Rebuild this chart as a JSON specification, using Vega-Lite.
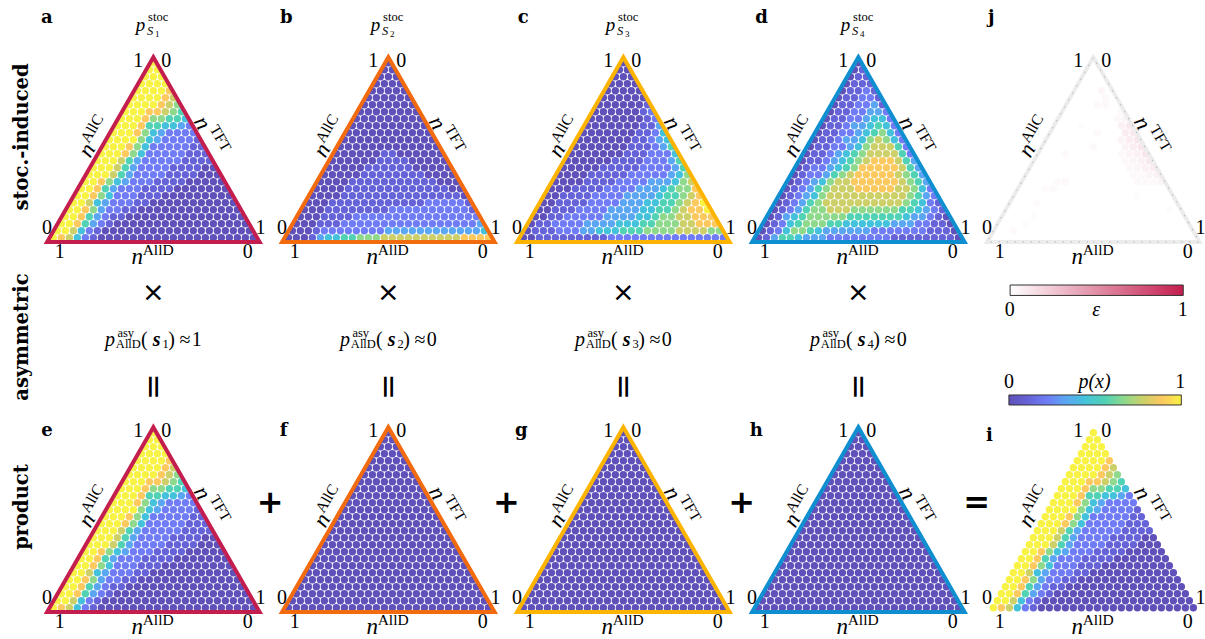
{"$schema":"https://vega.github.io/schema/vega-lite/v6.json","padding":0,"background":"white","bounds":"flush","spacing":0,"columns":6,
"config":{"view":{"stroke":null},"style":{
"digit":{"font":"Liberation Serif","fontSize":20,"fill":"#111"},
"nD":{"font":"Liberation Serif","fontStyle":"italic","fontSize":23,"fill":"#111"},
"nC":{"font":"Liberation Serif","fontStyle":"italic","fontSize":23,"angle":-60,"fill":"#111"},
"nT":{"font":"Liberation Serif","fontStyle":"italic","fontSize":23,"angle":60,"fill":"#111"},
"supD":{"font":"Liberation Serif","fontSize":15.5,"fill":"#111"},
"supC":{"font":"Liberation Serif","fontSize":15.5,"angle":-60,"fill":"#111"},
"supT":{"font":"Liberation Serif","fontSize":15.5,"angle":60,"fill":"#111"},
"letter":{"font":"DejaVu Serif","fontWeight":"bold","fontSize":18,"fill":"#111"},
"tP":{"font":"Liberation Serif","fontStyle":"italic","fontSize":19,"fill":"#111"},
"tS":{"font":"Liberation Serif","fontSize":12.5,"fill":"#111"},
"tC":{"font":"Liberation Serif","fontStyle":"italic","fontSize":12.5,"fill":"#111"},
"tN":{"font":"Liberation Serif","fontSize":9,"fill":"#111"},
"rowLab":{"font":"DejaVu Serif","fontWeight":"bold","fontSize":19.5,"angle":-90,"fill":"#111"},
"times":{"font":"DejaVu Sans","fontSize":27,"fill":"#111"},
"eqv":{"font":"DejaVu Sans","fontSize":32,"angle":90,"fill":"#111"},
"plus":{"font":"DejaVu Sans","fontSize":32,"fontWeight":"bold","fill":"#111"},
"fM":{"font":"Liberation Serif","fontSize":20,"fill":"#222"},
"fI":{"font":"Liberation Serif","fontStyle":"italic","fontSize":20,"fill":"#222"},
"fB":{"font":"Liberation Serif","fontStyle":"italic","fontWeight":"bold","fontSize":20,"fill":"#222"},
"fS":{"font":"Liberation Serif","fontSize":12.5,"fill":"#222"},
"barT":{"font":"Liberation Serif","fontSize":20,"fill":"#222"},
"barI":{"font":"Liberation Serif","fontStyle":"italic","fontSize":20,"fill":"#222"}
}},
"datasets":{
"digits":[{"x":10.6,"y":25.2,"t":"1"},{"x":14.1,"y":25.2,"t":"0"},{"x":-0.8,"y":1.4,"t":"0"},{"x":25.9,"y":1.4,"t":"1"},{"x":0.8,"y":-2.05,"t":"1"},{"x":24.3,"y":-2.05,"t":"0"}],
"nD":[{"x":10.5,"y":-2.75,"t":"n"}],"supD":[{"x":13.1,"y":-1.75,"t":"AllD"}],
"nC":[{"x":4.2,"y":12.5,"t":"n"}],"supC":[{"x":4.84,"y":15.6,"t":"AllC"}],
"nT":[{"x":18.6,"y":16.4,"t":"n"}],"supT":[{"x":20.9,"y":14.2,"t":"TFT"}],
"tP":[{"x":10.9,"y":30.4,"t":"p"}],"tS":[{"x":13.1,"y":31.5,"t":"stoc"}],"tC":[{"x":12.1,"y":29.5,"t":"S"}],
"tri":[{"o":0,"x":12.5,"y":-0.61},{"o":1,"x":25.78,"y":-0.61},{"o":2,"x":12.5,"y":25.77},{"o":3,"x":-0.78,"y":-0.61},{"o":4,"x":12.5,"y":-0.61}],
"fP":[{"x":0.3155,"y":0.4545,"t":"p"}],"fA":[{"x":0.3824,"y":0.403,"t":"asy"},{"x":0.3935,"y":0.4825,"t":"AllD"}],"fO":[{"x":0.4617,"y":0.4545,"t":"("},{"x":0.578,"y":0.4545,"t":")"},{"x":0.635,"y":0.4545,"t":"≈"}],"fSym":[{"x":0.5145,"y":0.4545,"t":"s"}],
"times":[{"x":0.5,"y":0.124,"t":"×"}],"eqv":[{"x":0.5,"y":0.78,"t":"="}],
"eps":[{"x":16,"y":16,"e":0.12},{"x":17,"y":16,"e":0.18},{"x":16.5,"y":15,"e":0.15},{"x":17.5,"y":15,"e":0.18},{"x":16,"y":14,"e":0.08},{"x":17,"y":14,"e":0.15},{"x":18,"y":14,"e":0.2},{"x":16.5,"y":13,"e":0.1},{"x":17.5,"y":13,"e":0.15},{"x":18.5,"y":13,"e":0.2},{"x":16,"y":12,"e":0.06},{"x":17,"y":12,"e":0.1},{"x":18,"y":12,"e":0.12},{"x":19,"y":12,"e":0.2},{"x":16.5,"y":11,"e":0.06},{"x":17.5,"y":11,"e":0.08},{"x":18.5,"y":11,"e":0.12},{"x":19.5,"y":11,"e":0.18},{"x":17,"y":10,"e":0.06},{"x":18,"y":10,"e":0.08},{"x":19,"y":10,"e":0.12},{"x":20,"y":10,"e":0.15},{"x":17.5,"y":9,"e":0.05},{"x":18.5,"y":9,"e":0.06},{"x":19.5,"y":9,"e":0.08},{"x":20.5,"y":9,"e":0.12},{"x":18,"y":8,"e":0.05},{"x":19,"y":8,"e":0.05},{"x":20,"y":8,"e":0.06},{"x":21,"y":8,"e":0.08},{"x":15.5,"y":17,"e":0.06},{"x":16.5,"y":17,"e":0.08},{"x":16,"y":18,"e":0.05},{"x":13.5,"y":21,"e":0.07},{"x":14,"y":20,"e":0.05},{"x":14,"y":19,"e":0.06},{"x":13,"y":19,"e":0.05},{"x":13,"y":15,"e":0.05},{"x":12.5,"y":13,"e":0.05},{"x":11,"y":16,"e":0.03},{"x":9,"y":12,"e":0.04},{"x":9,"y":8,"e":0.05},{"x":8,"y":8,"e":0.04},{"x":7.5,"y":7,"e":0.04},{"x":6.5,"y":7,"e":0.04},{"x":5.5,"y":5,"e":0.04},{"x":5,"y":3,"e":0.03},{"x":4,"y":2,"e":0.03},{"x":2.5,"y":1,"e":0.04},{"x":22,"y":4,"e":0.03},{"x":18,"y":6,"e":0.03}],
"lattice":[
{"x":0,"y":0,"a":9,"b":0,"c":0,"d":0},{"x":1,"y":0,"a":8,"b":0,"c":0,"d":1},{"x":2,"y":0,"a":7,"b":0,"c":1,"d":3},{"x":3,"y":0,"a":4,"b":1,"c":1,"d":5},{"x":4,"y":0,"a":2,"b":3,"c":1,"d":5},{"x":5,"y":0,"a":1,"b":4,"c":1,"d":4},{"x":6,"y":0,"a":0,"b":4,"c":1,"d":3},{"x":7,"y":0,"a":0,"b":5,"c":1,"d":3},{"x":8,"y":0,"a":0,"b":5,"c":1,"d":3},{"x":9,"y":0,"a":0,"b":6,"c":1,"d":2},{"x":10,"y":0,"a":0,"b":6,"c":1,"d":2},{"x":11,"y":0,"a":0,"b":6,"c":2,"d":2},{"x":12,"y":0,"a":0,"b":7,"c":2,"d":2},{"x":13,"y":0,"a":0,"b":7,"c":2,"d":2},{"x":14,"y":0,"a":0,"b":7,"c":2,"d":2},{"x":15,"y":0,"a":0,"b":7,"c":2,"d":2},{"x":16,"y":0,"a":0,"b":7,"c":2,"d":2},{"x":17,"y":0,"a":0,"b":7,"c":2,"d":1},{"x":18,"y":0,"a":0,"b":7,"c":2,"d":1},{"x":19,"y":0,"a":0,"b":7,"c":2,"d":1},{"x":20,"y":0,"a":0,"b":7,"c":2,"d":1},{"x":21,"y":0,"a":0,"b":7,"c":2,"d":1},{"x":22,"y":0,"a":0,"b":8,"c":2,"d":1},{"x":23,"y":0,"a":0,"b":8,"c":2,"d":1},{"x":24,"y":0,"a":0,"b":8,"c":2,"d":1},{"x":25,"y":0,"a":0,"b":8,"c":2,"d":0},
{"x":0.5,"y":1,"a":9,"b":0,"c":0,"d":0},{"x":1.5,"y":1,"a":9,"b":0,"c":1,"d":1},{"x":2.5,"y":1,"a":7,"b":0,"c":1,"d":2},{"x":3.5,"y":1,"a":4,"b":1,"c":1,"d":4},{"x":4.5,"y":1,"a":2,"b":2,"c":2,"d":6},{"x":5.5,"y":1,"a":1,"b":2,"c":2,"d":6},{"x":6.5,"y":1,"a":0,"b":2,"c":2,"d":5},{"x":7.5,"y":1,"a":0,"b":2,"c":3,"d":4},{"x":8.5,"y":1,"a":0,"b":2,"c":3,"d":3},{"x":9.5,"y":1,"a":0,"b":2,"c":4,"d":3},{"x":10.5,"y":1,"a":0,"b":2,"c":4,"d":3},{"x":11.5,"y":1,"a":0,"b":2,"c":4,"d":3},{"x":12.5,"y":1,"a":0,"b":3,"c":5,"d":3},{"x":13.5,"y":1,"a":0,"b":3,"c":5,"d":3},{"x":14.5,"y":1,"a":0,"b":3,"c":5,"d":2},{"x":15.5,"y":1,"a":0,"b":3,"c":6,"d":2},{"x":16.5,"y":1,"a":0,"b":3,"c":6,"d":2},{"x":17.5,"y":1,"a":0,"b":3,"c":6,"d":2},{"x":18.5,"y":1,"a":0,"b":3,"c":6,"d":2},{"x":19.5,"y":1,"a":0,"b":3,"c":7,"d":2},{"x":20.5,"y":1,"a":0,"b":3,"c":7,"d":2},{"x":21.5,"y":1,"a":0,"b":3,"c":7,"d":1},{"x":22.5,"y":1,"a":0,"b":3,"c":7,"d":1},{"x":23.5,"y":1,"a":0,"b":3,"c":6,"d":1},{"x":24.5,"y":1,"a":0,"b":4,"c":6,"d":0},
{"x":1,"y":2,"a":9,"b":0,"c":0,"d":0},{"x":2,"y":2,"a":9,"b":0,"c":1,"d":1},{"x":3,"y":2,"a":8,"b":0,"c":1,"d":2},{"x":4,"y":2,"a":5,"b":1,"c":2,"d":4},{"x":5,"y":2,"a":3,"b":1,"c":2,"d":5},{"x":6,"y":2,"a":2,"b":1,"c":2,"d":6},{"x":7,"y":2,"a":1,"b":2,"c":2,"d":6},{"x":8,"y":2,"a":0,"b":2,"c":3,"d":6},{"x":9,"y":2,"a":0,"b":2,"c":3,"d":5},{"x":10,"y":2,"a":0,"b":2,"c":3,"d":5},{"x":11,"y":2,"a":0,"b":2,"c":3,"d":4},{"x":12,"y":2,"a":0,"b":2,"c":4,"d":4},{"x":13,"y":2,"a":0,"b":2,"c":4,"d":4},{"x":14,"y":2,"a":0,"b":2,"c":4,"d":4},{"x":15,"y":2,"a":0,"b":2,"c":5,"d":4},{"x":16,"y":2,"a":0,"b":2,"c":5,"d":4},{"x":17,"y":2,"a":0,"b":2,"c":6,"d":3},{"x":18,"y":2,"a":0,"b":2,"c":6,"d":3},{"x":19,"y":2,"a":0,"b":2,"c":6,"d":3},{"x":20,"y":2,"a":0,"b":2,"c":7,"d":2},{"x":21,"y":2,"a":0,"b":2,"c":7,"d":2},{"x":22,"y":2,"a":0,"b":2,"c":8,"d":1},{"x":23,"y":2,"a":0,"b":2,"c":8,"d":1},{"x":24,"y":2,"a":0,"b":3,"c":8,"d":0},
{"x":1.5,"y":3,"a":9,"b":0,"c":0,"d":0},{"x":2.5,"y":3,"a":9,"b":0,"c":0,"d":1},{"x":3.5,"y":3,"a":8,"b":0,"c":1,"d":3},{"x":4.5,"y":3,"a":5,"b":1,"c":1,"d":4},{"x":5.5,"y":3,"a":3,"b":1,"c":2,"d":5},{"x":6.5,"y":3,"a":2,"b":1,"c":2,"d":6},{"x":7.5,"y":3,"a":1,"b":1,"c":2,"d":6},{"x":8.5,"y":3,"a":1,"b":2,"c":2,"d":6},{"x":9.5,"y":3,"a":0,"b":2,"c":2,"d":6},{"x":10.5,"y":3,"a":0,"b":2,"c":3,"d":6},{"x":11.5,"y":3,"a":0,"b":2,"c":3,"d":5},{"x":12.5,"y":3,"a":0,"b":2,"c":3,"d":5},{"x":13.5,"y":3,"a":0,"b":2,"c":3,"d":5},{"x":14.5,"y":3,"a":0,"b":2,"c":4,"d":5},{"x":15.5,"y":3,"a":0,"b":2,"c":4,"d":5},{"x":16.5,"y":3,"a":0,"b":2,"c":5,"d":5},{"x":17.5,"y":3,"a":0,"b":2,"c":6,"d":5},{"x":18.5,"y":3,"a":0,"b":2,"c":6,"d":4},{"x":19.5,"y":3,"a":0,"b":2,"c":7,"d":3},{"x":20.5,"y":3,"a":0,"b":2,"c":7,"d":3},{"x":21.5,"y":3,"a":0,"b":2,"c":8,"d":2},{"x":22.5,"y":3,"a":0,"b":2,"c":8,"d":1},{"x":23.5,"y":3,"a":0,"b":2,"c":8,"d":0},
{"x":2,"y":4,"a":9,"b":0,"c":0,"d":0},{"x":3,"y":4,"a":9,"b":0,"c":0,"d":1},{"x":4,"y":4,"a":8,"b":0,"c":1,"d":2},{"x":5,"y":4,"a":6,"b":1,"c":1,"d":3},{"x":6,"y":4,"a":3,"b":1,"c":1,"d":5},{"x":7,"y":4,"a":2,"b":1,"c":2,"d":6},{"x":8,"y":4,"a":2,"b":1,"c":2,"d":6},{"x":9,"y":4,"a":1,"b":1,"c":2,"d":7},{"x":10,"y":4,"a":1,"b":1,"c":2,"d":7},{"x":11,"y":4,"a":0,"b":1,"c":3,"d":7},{"x":12,"y":4,"a":0,"b":1,"c":3,"d":6},{"x":13,"y":4,"a":0,"b":2,"c":3,"d":6},{"x":14,"y":4,"a":0,"b":2,"c":3,"d":6},{"x":15,"y":4,"a":0,"b":2,"c":4,"d":6},{"x":16,"y":4,"a":0,"b":2,"c":4,"d":6},{"x":17,"y":4,"a":0,"b":2,"c":5,"d":6},{"x":18,"y":4,"a":0,"b":2,"c":5,"d":5},{"x":19,"y":4,"a":0,"b":2,"c":6,"d":5},{"x":20,"y":4,"a":0,"b":2,"c":7,"d":4},{"x":21,"y":4,"a":0,"b":2,"c":8,"d":3},{"x":22,"y":4,"a":0,"b":2,"c":8,"d":2},{"x":23,"y":4,"a":0,"b":1,"c":9,"d":1},
{"x":2.5,"y":5,"a":9,"b":0,"c":0,"d":0},{"x":3.5,"y":5,"a":9,"b":0,"c":0,"d":1},{"x":4.5,"y":5,"a":7,"b":0,"c":1,"d":2},{"x":5.5,"y":5,"a":4,"b":1,"c":1,"d":3},{"x":6.5,"y":5,"a":3,"b":1,"c":1,"d":5},{"x":7.5,"y":5,"a":2,"b":1,"c":1,"d":6},{"x":8.5,"y":5,"a":2,"b":1,"c":2,"d":7},{"x":9.5,"y":5,"a":2,"b":1,"c":2,"d":7},{"x":10.5,"y":5,"a":1,"b":1,"c":2,"d":7},{"x":11.5,"y":5,"a":1,"b":1,"c":2,"d":7},{"x":12.5,"y":5,"a":0,"b":1,"c":3,"d":7},{"x":13.5,"y":5,"a":0,"b":1,"c":3,"d":7},{"x":14.5,"y":5,"a":0,"b":1,"c":3,"d":7},{"x":15.5,"y":5,"a":0,"b":1,"c":4,"d":7},{"x":16.5,"y":5,"a":0,"b":1,"c":4,"d":7},{"x":17.5,"y":5,"a":0,"b":2,"c":5,"d":7},{"x":18.5,"y":5,"a":0,"b":2,"c":5,"d":6},{"x":19.5,"y":5,"a":0,"b":2,"c":6,"d":5},{"x":20.5,"y":5,"a":0,"b":2,"c":7,"d":4},{"x":21.5,"y":5,"a":0,"b":2,"c":8,"d":2},{"x":22.5,"y":5,"a":0,"b":1,"c":9,"d":1},
{"x":3,"y":6,"a":9,"b":0,"c":0,"d":0},{"x":4,"y":6,"a":9,"b":0,"c":0,"d":1},{"x":5,"y":6,"a":8,"b":0,"c":1,"d":2},{"x":6,"y":6,"a":6,"b":0,"c":1,"d":3},{"x":7,"y":6,"a":4,"b":1,"c":1,"d":4},{"x":8,"y":6,"a":2,"b":1,"c":1,"d":6},{"x":9,"y":6,"a":2,"b":1,"c":2,"d":7},{"x":10,"y":6,"a":2,"b":1,"c":2,"d":7},{"x":11,"y":6,"a":1,"b":1,"c":2,"d":7},{"x":12,"y":6,"a":1,"b":1,"c":2,"d":7},{"x":13,"y":6,"a":1,"b":1,"c":3,"d":7},{"x":14,"y":6,"a":0,"b":1,"c":3,"d":7},{"x":15,"y":6,"a":0,"b":1,"c":3,"d":7},{"x":16,"y":6,"a":0,"b":1,"c":3,"d":7},{"x":17,"y":6,"a":0,"b":1,"c":4,"d":7},{"x":18,"y":6,"a":0,"b":1,"c":5,"d":7},{"x":19,"y":6,"a":0,"b":1,"c":5,"d":6},{"x":20,"y":6,"a":0,"b":1,"c":6,"d":5},{"x":21,"y":6,"a":0,"b":1,"c":7,"d":3},{"x":22,"y":6,"a":0,"b":0,"c":8,"d":2},
{"x":3.5,"y":7,"a":9,"b":0,"c":0,"d":0},{"x":4.5,"y":7,"a":9,"b":0,"c":0,"d":1},{"x":5.5,"y":7,"a":8,"b":0,"c":0,"d":2},{"x":6.5,"y":7,"a":5,"b":0,"c":1,"d":3},{"x":7.5,"y":7,"a":3,"b":1,"c":1,"d":5},{"x":8.5,"y":7,"a":2,"b":1,"c":1,"d":6},{"x":9.5,"y":7,"a":2,"b":1,"c":1,"d":7},{"x":10.5,"y":7,"a":2,"b":1,"c":2,"d":7},{"x":11.5,"y":7,"a":1,"b":1,"c":2,"d":7},{"x":12.5,"y":7,"a":1,"b":1,"c":2,"d":8},{"x":13.5,"y":7,"a":1,"b":1,"c":2,"d":8},{"x":14.5,"y":7,"a":1,"b":1,"c":3,"d":8},{"x":15.5,"y":7,"a":0,"b":1,"c":3,"d":8},{"x":16.5,"y":7,"a":0,"b":1,"c":3,"d":8},{"x":17.5,"y":7,"a":0,"b":1,"c":4,"d":7},{"x":18.5,"y":7,"a":0,"b":1,"c":5,"d":7},{"x":19.5,"y":7,"a":0,"b":1,"c":6,"d":6},{"x":20.5,"y":7,"a":0,"b":0,"c":6,"d":4},{"x":21.5,"y":7,"a":0,"b":0,"c":8,"d":2},
{"x":4,"y":8,"a":9,"b":0,"c":0,"d":0},{"x":5,"y":8,"a":9,"b":0,"c":0,"d":1},{"x":6,"y":8,"a":8,"b":0,"c":0,"d":2},{"x":7,"y":8,"a":6,"b":0,"c":0,"d":3},{"x":8,"y":8,"a":4,"b":1,"c":1,"d":4},{"x":9,"y":8,"a":3,"b":1,"c":1,"d":6},{"x":10,"y":8,"a":2,"b":1,"c":1,"d":7},{"x":11,"y":8,"a":2,"b":1,"c":1,"d":7},{"x":12,"y":8,"a":2,"b":1,"c":2,"d":8},{"x":13,"y":8,"a":1,"b":1,"c":2,"d":8},{"x":14,"y":8,"a":1,"b":1,"c":2,"d":8},{"x":15,"y":8,"a":1,"b":1,"c":2,"d":8},{"x":16,"y":8,"a":1,"b":1,"c":3,"d":8},{"x":17,"y":8,"a":0,"b":1,"c":3,"d":8},{"x":18,"y":8,"a":0,"b":1,"c":3,"d":7},{"x":19,"y":8,"a":0,"b":0,"c":4,"d":6},{"x":20,"y":8,"a":0,"b":0,"c":6,"d":5},{"x":21,"y":8,"a":0,"b":0,"c":7,"d":3},
{"x":4.5,"y":9,"a":9,"b":0,"c":0,"d":0},{"x":5.5,"y":9,"a":9,"b":0,"c":0,"d":1},{"x":6.5,"y":9,"a":9,"b":0,"c":0,"d":2},{"x":7.5,"y":9,"a":7,"b":0,"c":0,"d":2},{"x":8.5,"y":9,"a":5,"b":0,"c":1,"d":3},{"x":9.5,"y":9,"a":3,"b":1,"c":1,"d":5},{"x":10.5,"y":9,"a":2,"b":1,"c":1,"d":6},{"x":11.5,"y":9,"a":2,"b":1,"c":1,"d":7},{"x":12.5,"y":9,"a":2,"b":1,"c":1,"d":8},{"x":13.5,"y":9,"a":2,"b":1,"c":2,"d":8},{"x":14.5,"y":9,"a":1,"b":1,"c":2,"d":8},{"x":15.5,"y":9,"a":1,"b":1,"c":2,"d":8},{"x":16.5,"y":9,"a":1,"b":1,"c":2,"d":8},{"x":17.5,"y":9,"a":1,"b":0,"c":2,"d":7},{"x":18.5,"y":9,"a":0,"b":0,"c":3,"d":6},{"x":19.5,"y":9,"a":0,"b":0,"c":4,"d":5},{"x":20.5,"y":9,"a":0,"b":0,"c":6,"d":3},
{"x":5,"y":10,"a":9,"b":0,"c":0,"d":0},{"x":6,"y":10,"a":9,"b":0,"c":0,"d":1},{"x":7,"y":10,"a":9,"b":0,"c":0,"d":2},{"x":8,"y":10,"a":7,"b":0,"c":0,"d":2},{"x":9,"y":10,"a":5,"b":0,"c":0,"d":3},{"x":10,"y":10,"a":3,"b":1,"c":1,"d":4},{"x":11,"y":10,"a":2,"b":1,"c":1,"d":5},{"x":12,"y":10,"a":2,"b":1,"c":1,"d":6},{"x":13,"y":10,"a":2,"b":1,"c":1,"d":8},{"x":14,"y":10,"a":2,"b":1,"c":1,"d":8},{"x":15,"y":10,"a":1,"b":1,"c":2,"d":8},{"x":16,"y":10,"a":1,"b":0,"c":2,"d":8},{"x":17,"y":10,"a":1,"b":0,"c":2,"d":8},{"x":18,"y":10,"a":1,"b":0,"c":2,"d":7},{"x":19,"y":10,"a":0,"b":0,"c":3,"d":5},{"x":20,"y":10,"a":0,"b":0,"c":5,"d":3},
{"x":5.5,"y":11,"a":9,"b":0,"c":0,"d":0},{"x":6.5,"y":11,"a":9,"b":0,"c":0,"d":1},{"x":7.5,"y":11,"a":9,"b":0,"c":0,"d":1},{"x":8.5,"y":11,"a":7,"b":0,"c":0,"d":2},{"x":9.5,"y":11,"a":5,"b":0,"c":0,"d":3},{"x":10.5,"y":11,"a":3,"b":0,"c":0,"d":4},{"x":11.5,"y":11,"a":2,"b":1,"c":1,"d":5},{"x":12.5,"y":11,"a":2,"b":1,"c":1,"d":6},{"x":13.5,"y":11,"a":2,"b":1,"c":1,"d":7},{"x":14.5,"y":11,"a":2,"b":1,"c":1,"d":8},{"x":15.5,"y":11,"a":2,"b":0,"c":2,"d":8},{"x":16.5,"y":11,"a":1,"b":0,"c":2,"d":8},{"x":17.5,"y":11,"a":1,"b":0,"c":2,"d":7},{"x":18.5,"y":11,"a":1,"b":0,"c":3,"d":5},{"x":19.5,"y":11,"a":1,"b":0,"c":5,"d":3},
{"x":6,"y":12,"a":9,"b":0,"c":0,"d":0},{"x":7,"y":12,"a":9,"b":0,"c":0,"d":1},{"x":8,"y":12,"a":9,"b":0,"c":0,"d":1},{"x":9,"y":12,"a":8,"b":0,"c":0,"d":2},{"x":10,"y":12,"a":6,"b":0,"c":0,"d":3},{"x":11,"y":12,"a":4,"b":0,"c":0,"d":4},{"x":12,"y":12,"a":2,"b":1,"c":0,"d":5},{"x":13,"y":12,"a":2,"b":1,"c":1,"d":6},{"x":14,"y":12,"a":2,"b":0,"c":1,"d":7},{"x":15,"y":12,"a":2,"b":0,"c":1,"d":7},{"x":16,"y":12,"a":2,"b":0,"c":2,"d":7},{"x":17,"y":12,"a":1,"b":0,"c":2,"d":7},{"x":18,"y":12,"a":1,"b":0,"c":2,"d":5},{"x":19,"y":12,"a":1,"b":0,"c":4,"d":2},
{"x":6.5,"y":13,"a":9,"b":0,"c":0,"d":0},{"x":7.5,"y":13,"a":9,"b":0,"c":0,"d":1},{"x":8.5,"y":13,"a":9,"b":0,"c":0,"d":1},{"x":9.5,"y":13,"a":8,"b":0,"c":0,"d":2},{"x":10.5,"y":13,"a":6,"b":0,"c":0,"d":2},{"x":11.5,"y":13,"a":4,"b":0,"c":0,"d":3},{"x":12.5,"y":13,"a":2,"b":0,"c":0,"d":4},{"x":13.5,"y":13,"a":2,"b":0,"c":1,"d":6},{"x":14.5,"y":13,"a":2,"b":0,"c":1,"d":7},{"x":15.5,"y":13,"a":2,"b":0,"c":1,"d":7},{"x":16.5,"y":13,"a":2,"b":0,"c":2,"d":7},{"x":17.5,"y":13,"a":1,"b":0,"c":3,"d":5},{"x":18.5,"y":13,"a":1,"b":0,"c":5,"d":2},
{"x":7,"y":14,"a":9,"b":0,"c":0,"d":0},{"x":8,"y":14,"a":9,"b":0,"c":0,"d":1},{"x":9,"y":14,"a":9,"b":0,"c":0,"d":1},{"x":10,"y":14,"a":9,"b":0,"c":0,"d":2},{"x":11,"y":14,"a":6,"b":0,"c":0,"d":3},{"x":12,"y":14,"a":4,"b":0,"c":0,"d":3},{"x":13,"y":14,"a":3,"b":0,"c":0,"d":4},{"x":14,"y":14,"a":2,"b":0,"c":1,"d":6},{"x":15,"y":14,"a":2,"b":0,"c":1,"d":7},{"x":16,"y":14,"a":2,"b":0,"c":2,"d":6},{"x":17,"y":14,"a":2,"b":0,"c":3,"d":4},{"x":18,"y":14,"a":1,"b":0,"c":4,"d":2},
{"x":7.5,"y":15,"a":9,"b":0,"c":0,"d":0},{"x":8.5,"y":15,"a":9,"b":0,"c":0,"d":1},{"x":9.5,"y":15,"a":9,"b":0,"c":0,"d":1},{"x":10.5,"y":15,"a":8,"b":0,"c":0,"d":2},{"x":11.5,"y":15,"a":6,"b":0,"c":0,"d":2},{"x":12.5,"y":15,"a":4,"b":0,"c":0,"d":3},{"x":13.5,"y":15,"a":3,"b":0,"c":0,"d":4},{"x":14.5,"y":15,"a":2,"b":0,"c":1,"d":5},{"x":15.5,"y":15,"a":2,"b":0,"c":1,"d":6},{"x":16.5,"y":15,"a":2,"b":0,"c":2,"d":4},{"x":17.5,"y":15,"a":2,"b":0,"c":4,"d":2},
{"x":8,"y":16,"a":9,"b":0,"c":0,"d":0},{"x":9,"y":16,"a":9,"b":0,"c":0,"d":1},{"x":10,"y":16,"a":9,"b":0,"c":0,"d":1},{"x":11,"y":16,"a":8,"b":0,"c":0,"d":2},{"x":12,"y":16,"a":5,"b":0,"c":0,"d":3},{"x":13,"y":16,"a":5,"b":0,"c":0,"d":3},{"x":14,"y":16,"a":4,"b":0,"c":0,"d":4},{"x":15,"y":16,"a":4,"b":0,"c":1,"d":5},{"x":16,"y":16,"a":3,"b":0,"c":1,"d":4},{"x":17,"y":16,"a":2,"b":0,"c":3,"d":2},
{"x":8.5,"y":17,"a":9,"b":0,"c":0,"d":0},{"x":9.5,"y":17,"a":9,"b":0,"c":0,"d":1},{"x":10.5,"y":17,"a":9,"b":0,"c":0,"d":1},{"x":11.5,"y":17,"a":8,"b":0,"c":0,"d":2},{"x":12.5,"y":17,"a":6,"b":0,"c":0,"d":2},{"x":13.5,"y":17,"a":6,"b":0,"c":0,"d":3},{"x":14.5,"y":17,"a":5,"b":0,"c":0,"d":4},{"x":15.5,"y":17,"a":5,"b":0,"c":1,"d":4},{"x":16.5,"y":17,"a":4,"b":0,"c":2,"d":2},
{"x":9,"y":18,"a":9,"b":0,"c":0,"d":0},{"x":10,"y":18,"a":9,"b":0,"c":0,"d":1},{"x":11,"y":18,"a":9,"b":0,"c":0,"d":1},{"x":12,"y":18,"a":8,"b":0,"c":0,"d":2},{"x":13,"y":18,"a":8,"b":0,"c":0,"d":2},{"x":14,"y":18,"a":7,"b":0,"c":0,"d":3},{"x":15,"y":18,"a":6,"b":0,"c":1,"d":3},{"x":16,"y":18,"a":5,"b":0,"c":2,"d":2},
{"x":9.5,"y":19,"a":9,"b":0,"c":0,"d":0},{"x":10.5,"y":19,"a":9,"b":0,"c":0,"d":1},{"x":11.5,"y":19,"a":9,"b":0,"c":0,"d":1},{"x":12.5,"y":19,"a":9,"b":0,"c":0,"d":2},{"x":13.5,"y":19,"a":8,"b":0,"c":0,"d":2},{"x":14.5,"y":19,"a":7,"b":0,"c":0,"d":3},{"x":15.5,"y":19,"a":6,"b":0,"c":1,"d":1},
{"x":10,"y":20,"a":9,"b":0,"c":0,"d":0},{"x":11,"y":20,"a":9,"b":0,"c":0,"d":1},{"x":12,"y":20,"a":9,"b":0,"c":0,"d":1},{"x":13,"y":20,"a":9,"b":0,"c":0,"d":2},{"x":14,"y":20,"a":8,"b":0,"c":0,"d":2},{"x":15,"y":20,"a":7,"b":0,"c":0,"d":1},
{"x":10.5,"y":21,"a":9,"b":0,"c":0,"d":0},{"x":11.5,"y":21,"a":9,"b":0,"c":0,"d":1},{"x":12.5,"y":21,"a":9,"b":0,"c":0,"d":1},{"x":13.5,"y":21,"a":9,"b":0,"c":0,"d":2},{"x":14.5,"y":21,"a":8,"b":0,"c":0,"d":1},
{"x":11,"y":22,"a":9,"b":0,"c":0,"d":0},{"x":12,"y":22,"a":9,"b":0,"c":0,"d":1},{"x":13,"y":22,"a":9,"b":0,"c":0,"d":1},{"x":14,"y":22,"a":9,"b":0,"c":0,"d":1},
{"x":11.5,"y":23,"a":9,"b":0,"c":0,"d":0},{"x":12.5,"y":23,"a":9,"b":0,"c":0,"d":1},{"x":13.5,"y":23,"a":9,"b":0,"c":0,"d":1},
{"x":12,"y":24,"a":9,"b":0,"c":0,"d":0},{"x":13,"y":24,"a":9,"b":0,"c":0,"d":1},
{"x":12.5,"y":25,"a":9,"b":0,"c":0,"d":0}
]},
"concat":[
{"width":36,"height":275,"data":{"values":[{"x":0.61,"y":0.498,"t":"stoc.-induced"}]},"mark":{"type":"text","style":"rowLab"},"encoding":{"x":{"field":"x","type":"quantitative","scale":{"domain":[0,1]},"axis":null},"y":{"field":"y","type":"quantitative","scale":{"domain":[1,0]},"axis":null},"text":{"field":"t"}}},
{"width":234.7,"height":275,"encoding":{"x":{"field":"x","type":"quantitative","scale":{"domain":[-2.169,27.169]},"axis":null},"y":{"field":"y","type":"quantitative","scale":{"domain":[-5.329,33.957]},"axis":null}},"layer":[
{"data":{"name":"lattice"},"mark":{"type":"circle","size":55,"opacity":1},"encoding":{"color":{"field":"a","type":"quantitative","scale":{"domain":[0,1,2,3,4,5,6,7,8,9],"range":["#5f51b9","#6663d8","#6f7cf6","#5ba6f2","#44c2dc","#52d2b4","#8fd98c","#cdd068","#fcc95f","#f8f244"]},"legend":null}}},
{"data":{"name":"tri"},"mark":{"type":"line","color":"#c41e4e","strokeWidth":4,"strokeJoin":"miter"},"encoding":{"order":{"field":"o"}}},
{"encoding":{"text":{"field":"t"}},"layer":[{"data":{"name":"digits"},"mark":{"type":"text","style":"digit"}},{"data":{"name":"nD"},"mark":{"type":"text","style":"nD"}},{"data":{"name":"supD"},"mark":{"type":"text","style":"supD"}},{"data":{"name":"nC"},"mark":{"type":"text","style":"nC"}},{"data":{"name":"supC"},"mark":{"type":"text","style":"supC"}},{"data":{"name":"nT"},"mark":{"type":"text","style":"nT"}},{"data":{"name":"supT"},"mark":{"type":"text","style":"supT"}},{"data":{"name":"tP"},"mark":{"type":"text","style":"tP"}},{"data":{"name":"tS"},"mark":{"type":"text","style":"tS"}},{"data":{"name":"tC"},"mark":{"type":"text","style":"tC"}},{"data":{"values":[{"x":13,"y":29.1,"t":"1"}]},"mark":{"type":"text","style":"tN"}},{"data":{"values":[{"x":-0.8,"y":31.4,"t":"a"}]},"mark":{"type":"text","style":"letter"}}]}
]},
{"width":234.7,"height":275,"encoding":{"x":{"field":"x","type":"quantitative","scale":{"domain":[-2.169,27.169]},"axis":null},"y":{"field":"y","type":"quantitative","scale":{"domain":[-5.329,33.957]},"axis":null}},"layer":[
{"data":{"name":"lattice"},"mark":{"type":"circle","size":55,"opacity":1},"encoding":{"color":{"field":"b","type":"quantitative","scale":{"domain":[0,1,2,3,4,5,6,7,8,9],"range":["#5f51b9","#6663d8","#6f7cf6","#5ba6f2","#44c2dc","#52d2b4","#8fd98c","#cdd068","#fcc95f","#f8f244"]},"legend":null}}},
{"data":{"name":"tri"},"mark":{"type":"line","color":"#f26b0f","strokeWidth":4,"strokeJoin":"miter"},"encoding":{"order":{"field":"o"}}},
{"encoding":{"text":{"field":"t"}},"layer":[{"data":{"name":"digits"},"mark":{"type":"text","style":"digit"}},{"data":{"name":"nD"},"mark":{"type":"text","style":"nD"}},{"data":{"name":"supD"},"mark":{"type":"text","style":"supD"}},{"data":{"name":"nC"},"mark":{"type":"text","style":"nC"}},{"data":{"name":"supC"},"mark":{"type":"text","style":"supC"}},{"data":{"name":"nT"},"mark":{"type":"text","style":"nT"}},{"data":{"name":"supT"},"mark":{"type":"text","style":"supT"}},{"data":{"name":"tP"},"mark":{"type":"text","style":"tP"}},{"data":{"name":"tS"},"mark":{"type":"text","style":"tS"}},{"data":{"name":"tC"},"mark":{"type":"text","style":"tC"}},{"data":{"values":[{"x":13,"y":29.1,"t":"2"}]},"mark":{"type":"text","style":"tN"}},{"data":{"values":[{"x":-0.25,"y":31.4,"t":"b"}]},"mark":{"type":"text","style":"letter"}}]}
]},
{"width":234.7,"height":275,"encoding":{"x":{"field":"x","type":"quantitative","scale":{"domain":[-2.169,27.169]},"axis":null},"y":{"field":"y","type":"quantitative","scale":{"domain":[-5.329,33.957]},"axis":null}},"layer":[
{"data":{"name":"lattice"},"mark":{"type":"circle","size":55,"opacity":1},"encoding":{"color":{"field":"c","type":"quantitative","scale":{"domain":[0,1,2,3,4,5,6,7,8,9],"range":["#5f51b9","#6663d8","#6f7cf6","#5ba6f2","#44c2dc","#52d2b4","#8fd98c","#cdd068","#fcc95f","#f8f244"]},"legend":null}}},
{"data":{"name":"tri"},"mark":{"type":"line","color":"#fdb400","strokeWidth":4,"strokeJoin":"miter"},"encoding":{"order":{"field":"o"}}},
{"encoding":{"text":{"field":"t"}},"layer":[{"data":{"name":"digits"},"mark":{"type":"text","style":"digit"}},{"data":{"name":"nD"},"mark":{"type":"text","style":"nD"}},{"data":{"name":"supD"},"mark":{"type":"text","style":"supD"}},{"data":{"name":"nC"},"mark":{"type":"text","style":"nC"}},{"data":{"name":"supC"},"mark":{"type":"text","style":"supC"}},{"data":{"name":"nT"},"mark":{"type":"text","style":"nT"}},{"data":{"name":"supT"},"mark":{"type":"text","style":"supT"}},{"data":{"name":"tP"},"mark":{"type":"text","style":"tP"}},{"data":{"name":"tS"},"mark":{"type":"text","style":"tS"}},{"data":{"name":"tC"},"mark":{"type":"text","style":"tC"}},{"data":{"values":[{"x":13,"y":29.1,"t":"3"}]},"mark":{"type":"text","style":"tN"}},{"data":{"values":[{"x":0,"y":31.4,"t":"c"}]},"mark":{"type":"text","style":"letter"}}]}
]},
{"width":234.7,"height":275,"encoding":{"x":{"field":"x","type":"quantitative","scale":{"domain":[-2.169,27.169]},"axis":null},"y":{"field":"y","type":"quantitative","scale":{"domain":[-5.329,33.957]},"axis":null}},"layer":[
{"data":{"name":"lattice"},"mark":{"type":"circle","size":55,"opacity":1},"encoding":{"color":{"field":"d","type":"quantitative","scale":{"domain":[0,1,2,3,4,5,6,7,8,9],"range":["#5f51b9","#6663d8","#6f7cf6","#5ba6f2","#44c2dc","#52d2b4","#8fd98c","#cdd068","#fcc95f","#f8f244"]},"legend":null}}},
{"data":{"name":"tri"},"mark":{"type":"line","color":"#0f8fd0","strokeWidth":4,"strokeJoin":"miter"},"encoding":{"order":{"field":"o"}}},
{"encoding":{"text":{"field":"t"}},"layer":[{"data":{"name":"digits"},"mark":{"type":"text","style":"digit"}},{"data":{"name":"nD"},"mark":{"type":"text","style":"nD"}},{"data":{"name":"supD"},"mark":{"type":"text","style":"supD"}},{"data":{"name":"nC"},"mark":{"type":"text","style":"nC"}},{"data":{"name":"supC"},"mark":{"type":"text","style":"supC"}},{"data":{"name":"nT"},"mark":{"type":"text","style":"nT"}},{"data":{"name":"supT"},"mark":{"type":"text","style":"supT"}},{"data":{"name":"tP"},"mark":{"type":"text","style":"tP"}},{"data":{"name":"tS"},"mark":{"type":"text","style":"tS"}},{"data":{"name":"tC"},"mark":{"type":"text","style":"tC"}},{"data":{"values":[{"x":13,"y":29.1,"t":"4"}]},"mark":{"type":"text","style":"tN"}},{"data":{"values":[{"x":0.4,"y":31.4,"t":"d"}]},"mark":{"type":"text","style":"letter"}}]}
]},
{"width":229,"height":275,"encoding":{"x":{"field":"x","type":"quantitative","scale":{"domain":[-2.169,26.456]},"axis":null},"y":{"field":"y","type":"quantitative","scale":{"domain":[-5.329,33.957]},"axis":null}},"layer":[
{"data":{"name":"eps"},"mark":{"type":"circle","size":55,"color":"#c41e4e"},"encoding":{"opacity":{"field":"e","type":"quantitative","scale":{"domain":[0,1],"range":[0,0.55]},"legend":null}}},
{"data":{"name":"tri"},"mark":{"type":"line","color":"#ececec","strokeWidth":4,"strokeJoin":"miter"},"encoding":{"order":{"field":"o"}}},
{"data":{"name":"tri"},"mark":{"type":"line","color":"#b0b0b0","strokeWidth":1.2,"strokeDash":[1,7]},"encoding":{"order":{"field":"o"}}},
{"encoding":{"text":{"field":"t"}},"layer":[{"data":{"name":"digits"},"mark":{"type":"text","style":"digit"}},{"data":{"name":"nD"},"mark":{"type":"text","style":"nD"}},{"data":{"name":"supD"},"mark":{"type":"text","style":"supD"}},{"data":{"name":"nC"},"mark":{"type":"text","style":"nC"}},{"data":{"name":"supC"},"mark":{"type":"text","style":"supC"}},{"data":{"name":"nT"},"mark":{"type":"text","style":"nT"}},{"data":{"name":"supT"},"mark":{"type":"text","style":"supT"}},{"data":{"values":[{"x":-0.25,"y":31.4,"t":"j"}]},"mark":{"type":"text","style":"letter"}}]}
]},
{"width":36,"height":143,"data":{"values":[{"x":0.61,"y":0.434,"t":"asymmetric"}]},"mark":{"type":"text","style":"rowLab"},"encoding":{"x":{"field":"x","type":"quantitative","scale":{"domain":[0,1]},"axis":null},"y":{"field":"y","type":"quantitative","scale":{"domain":[1,0]},"axis":null},"text":{"field":"t"}}},
{"width":234.7,"height":143,"encoding":{"x":{"field":"x","type":"quantitative","scale":{"domain":[0,1]},"axis":null},"y":{"field":"y","type":"quantitative","scale":{"domain":[1,0]},"axis":null},"text":{"field":"t"}},"layer":[{"data":{"name":"times"},"mark":{"type":"text","style":"times"}},{"data":{"name":"eqv"},"mark":{"type":"text","style":"eqv"}},{"data":{"name":"fP"},"mark":{"type":"text","style":"fI"}},{"data":{"name":"fA"},"mark":{"type":"text","style":"fS"}},{"data":{"name":"fO"},"mark":{"type":"text","style":"fM"}},{"data":{"name":"fSym"},"mark":{"type":"text","style":"fB"}},{"data":{"values":[{"x":0.5528,"y":0.4825,"t":"1"}]},"mark":{"type":"text","style":"fS"}},{"data":{"values":[{"x":0.685,"y":0.4545,"t":"1"}]},"mark":{"type":"text","style":"fM"}}]},
{"width":234.7,"height":143,"encoding":{"x":{"field":"x","type":"quantitative","scale":{"domain":[0,1]},"axis":null},"y":{"field":"y","type":"quantitative","scale":{"domain":[1,0]},"axis":null},"text":{"field":"t"}},"layer":[{"data":{"name":"times"},"mark":{"type":"text","style":"times"}},{"data":{"name":"eqv"},"mark":{"type":"text","style":"eqv"}},{"data":{"name":"fP"},"mark":{"type":"text","style":"fI"}},{"data":{"name":"fA"},"mark":{"type":"text","style":"fS"}},{"data":{"name":"fO"},"mark":{"type":"text","style":"fM"}},{"data":{"name":"fSym"},"mark":{"type":"text","style":"fB"}},{"data":{"values":[{"x":0.5528,"y":0.4825,"t":"2"}]},"mark":{"type":"text","style":"fS"}},{"data":{"values":[{"x":0.685,"y":0.4545,"t":"0"}]},"mark":{"type":"text","style":"fM"}}]},
{"width":234.7,"height":143,"encoding":{"x":{"field":"x","type":"quantitative","scale":{"domain":[0,1]},"axis":null},"y":{"field":"y","type":"quantitative","scale":{"domain":[1,0]},"axis":null},"text":{"field":"t"}},"layer":[{"data":{"name":"times"},"mark":{"type":"text","style":"times"}},{"data":{"name":"eqv"},"mark":{"type":"text","style":"eqv"}},{"data":{"name":"fP"},"mark":{"type":"text","style":"fI"}},{"data":{"name":"fA"},"mark":{"type":"text","style":"fS"}},{"data":{"name":"fO"},"mark":{"type":"text","style":"fM"}},{"data":{"name":"fSym"},"mark":{"type":"text","style":"fB"}},{"data":{"values":[{"x":0.5528,"y":0.4825,"t":"3"}]},"mark":{"type":"text","style":"fS"}},{"data":{"values":[{"x":0.685,"y":0.4545,"t":"0"}]},"mark":{"type":"text","style":"fM"}}]},
{"width":234.7,"height":143,"encoding":{"x":{"field":"x","type":"quantitative","scale":{"domain":[0,1]},"axis":null},"y":{"field":"y","type":"quantitative","scale":{"domain":[1,0]},"axis":null},"text":{"field":"t"}},"layer":[{"data":{"name":"times"},"mark":{"type":"text","style":"times"}},{"data":{"name":"eqv"},"mark":{"type":"text","style":"eqv"}},{"data":{"name":"fP"},"mark":{"type":"text","style":"fI"}},{"data":{"name":"fA"},"mark":{"type":"text","style":"fS"}},{"data":{"name":"fO"},"mark":{"type":"text","style":"fM"}},{"data":{"name":"fSym"},"mark":{"type":"text","style":"fB"}},{"data":{"values":[{"x":0.5528,"y":0.4825,"t":"4"}]},"mark":{"type":"text","style":"fS"}},{"data":{"values":[{"x":0.685,"y":0.4545,"t":"0"}]},"mark":{"type":"text","style":"fM"}}]},
{"width":229,"height":143,"encoding":{"x":{"field":"x","type":"quantitative","scale":{"domain":[0,1]},"axis":null},"y":{"field":"y","type":"quantitative","scale":{"domain":[1,0]},"axis":null}},"layer":[
{"data":{"values":[{"x":0.149,"x2":0.905,"y":0.07,"y2":0.143}]},"mark":{"type":"rect","stroke":"#333333","strokeWidth":1,"fill":{"gradient":"linear","x1":0,"y1":0,"x2":1,"y2":0,"stops":[{"offset":0,"color":"#ffffff"},{"offset":1,"color":"#c41e4e"}]}},"encoding":{"x2":{"field":"x2"},"y2":{"field":"y2"}}},
{"data":{"values":[{"x":0.1437,"x2":0.8965,"y":0.839,"y2":0.909}]},"mark":{"type":"rect","stroke":"#333333","strokeWidth":1,"fill":{"gradient":"linear","x1":0,"y1":0,"x2":1,"y2":0,"stops":[{"offset":0,"color":"#5f51b9"},{"offset":0.11,"color":"#6663d8"},{"offset":0.22,"color":"#6f7cf6"},{"offset":0.33,"color":"#5ba6f2"},{"offset":0.44,"color":"#44c2dc"},{"offset":0.56,"color":"#52d2b4"},{"offset":0.67,"color":"#8fd98c"},{"offset":0.78,"color":"#cdd068"},{"offset":0.89,"color":"#fcc95f"},{"offset":1,"color":"#f8f244"}]}},"encoding":{"x2":{"field":"x2"},"y2":{"field":"y2"}}},
{"data":{"values":[{"x":0.147,"y":0.245,"t":"0"},{"x":0.903,"y":0.245,"t":"1"},{"x":0.144,"y":0.746,"t":"0"},{"x":0.892,"y":0.746,"t":"1"}]},"mark":{"type":"text","style":"barT"},"encoding":{"text":{"field":"t"}}},
{"data":{"values":[{"x":0.525,"y":0.245,"t":"ε"},{"x":0.5175,"y":0.746,"t":"p(x)"}]},"mark":{"type":"text","style":"barI"},"encoding":{"text":{"field":"t"}}}
]},
{"width":36,"height":221,"data":{"values":[{"x":0.61,"y":0.403,"t":"product"}]},"mark":{"type":"text","style":"rowLab"},"encoding":{"x":{"field":"x","type":"quantitative","scale":{"domain":[0,1]},"axis":null},"y":{"field":"y","type":"quantitative","scale":{"domain":[1,0]},"axis":null},"text":{"field":"t"}}},
{"width":234.7,"height":221,"encoding":{"x":{"field":"x","type":"quantitative","scale":{"domain":[-2.169,27.169]},"axis":null},"y":{"field":"y","type":"quantitative","scale":{"domain":[-4.471,27.1]},"axis":null}},"layer":[
{"data":{"name":"lattice"},"mark":{"type":"circle","size":55,"opacity":1},"encoding":{"color":{"field":"a","type":"quantitative","scale":{"domain":[0,1,2,3,4,5,6,7,8,9],"range":["#5f51b9","#6663d8","#6f7cf6","#5ba6f2","#44c2dc","#52d2b4","#8fd98c","#cdd068","#fcc95f","#f8f244"]},"legend":null}}},
{"data":{"name":"tri"},"mark":{"type":"line","color":"#c41e4e","strokeWidth":4,"strokeJoin":"miter"},"encoding":{"order":{"field":"o"}}},
{"encoding":{"text":{"field":"t"}},"layer":[{"data":{"name":"digits"},"mark":{"type":"text","style":"digit"}},{"data":{"name":"nD"},"mark":{"type":"text","style":"nD"}},{"data":{"name":"supD"},"mark":{"type":"text","style":"supD"}},{"data":{"name":"nC"},"mark":{"type":"text","style":"nC"}},{"data":{"name":"supC"},"mark":{"type":"text","style":"supC"}},{"data":{"name":"nT"},"mark":{"type":"text","style":"nT"}},{"data":{"name":"supT"},"mark":{"type":"text","style":"supT"}},{"data":{"values":[{"x":-0.8,"y":25.2,"t":"e"}]},"mark":{"type":"text","style":"letter"}},{"data":{"values":[{"x":27.09,"y":14.96,"t":"+"}]},"mark":{"type":"text","style":"plus"}}]}
]},
{"width":234.7,"height":221,"encoding":{"x":{"field":"x","type":"quantitative","scale":{"domain":[-2.169,27.169]},"axis":null},"y":{"field":"y","type":"quantitative","scale":{"domain":[-4.471,27.1]},"axis":null}},"layer":[
{"data":{"name":"lattice"},"mark":{"type":"circle","size":55,"opacity":1},"encoding":{"color":{"datum":0,"type":"quantitative","scale":{"domain":[0,1,2,3,4,5,6,7,8,9],"range":["#5f51b9","#6663d8","#6f7cf6","#5ba6f2","#44c2dc","#52d2b4","#8fd98c","#cdd068","#fcc95f","#f8f244"]},"legend":null}}},
{"data":{"name":"tri"},"mark":{"type":"line","color":"#f26b0f","strokeWidth":4,"strokeJoin":"miter"},"encoding":{"order":{"field":"o"}}},
{"encoding":{"text":{"field":"t"}},"layer":[{"data":{"name":"digits"},"mark":{"type":"text","style":"digit"}},{"data":{"name":"nD"},"mark":{"type":"text","style":"nD"}},{"data":{"name":"supD"},"mark":{"type":"text","style":"supD"}},{"data":{"name":"nC"},"mark":{"type":"text","style":"nC"}},{"data":{"name":"supC"},"mark":{"type":"text","style":"supC"}},{"data":{"name":"nT"},"mark":{"type":"text","style":"nT"}},{"data":{"name":"supT"},"mark":{"type":"text","style":"supT"}},{"data":{"values":[{"x":-0.6,"y":25.2,"t":"f"}]},"mark":{"type":"text","style":"letter"}},{"data":{"values":[{"x":27.25,"y":14.96,"t":"+"}]},"mark":{"type":"text","style":"plus"}}]}
]},
{"width":234.7,"height":221,"encoding":{"x":{"field":"x","type":"quantitative","scale":{"domain":[-2.169,27.169]},"axis":null},"y":{"field":"y","type":"quantitative","scale":{"domain":[-4.471,27.1]},"axis":null}},"layer":[
{"data":{"name":"lattice"},"mark":{"type":"circle","size":55,"opacity":1},"encoding":{"color":{"datum":0,"type":"quantitative","scale":{"domain":[0,1,2,3,4,5,6,7,8,9],"range":["#5f51b9","#6663d8","#6f7cf6","#5ba6f2","#44c2dc","#52d2b4","#8fd98c","#cdd068","#fcc95f","#f8f244"]},"legend":null}}},
{"data":{"name":"tri"},"mark":{"type":"line","color":"#fdb400","strokeWidth":4,"strokeJoin":"miter"},"encoding":{"order":{"field":"o"}}},
{"encoding":{"text":{"field":"t"}},"layer":[{"data":{"name":"digits"},"mark":{"type":"text","style":"digit"}},{"data":{"name":"nD"},"mark":{"type":"text","style":"nD"}},{"data":{"name":"supD"},"mark":{"type":"text","style":"supD"}},{"data":{"name":"nC"},"mark":{"type":"text","style":"nC"}},{"data":{"name":"supC"},"mark":{"type":"text","style":"supC"}},{"data":{"name":"nT"},"mark":{"type":"text","style":"nT"}},{"data":{"name":"supT"},"mark":{"type":"text","style":"supT"}},{"data":{"values":[{"x":-0.25,"y":25.2,"t":"g"}]},"mark":{"type":"text","style":"letter"}},{"data":{"values":[{"x":27.3,"y":14.96,"t":"+"}]},"mark":{"type":"text","style":"plus"}}]}
]},
{"width":234.7,"height":221,"encoding":{"x":{"field":"x","type":"quantitative","scale":{"domain":[-2.169,27.169]},"axis":null},"y":{"field":"y","type":"quantitative","scale":{"domain":[-4.471,27.1]},"axis":null}},"layer":[
{"data":{"name":"lattice"},"mark":{"type":"circle","size":55,"opacity":1},"encoding":{"color":{"datum":0,"type":"quantitative","scale":{"domain":[0,1,2,3,4,5,6,7,8,9],"range":["#5f51b9","#6663d8","#6f7cf6","#5ba6f2","#44c2dc","#52d2b4","#8fd98c","#cdd068","#fcc95f","#f8f244"]},"legend":null}}},
{"data":{"name":"tri"},"mark":{"type":"line","color":"#0f8fd0","strokeWidth":4,"strokeJoin":"miter"},"encoding":{"order":{"field":"o"}}},
{"encoding":{"text":{"field":"t"}},"layer":[{"data":{"name":"digits"},"mark":{"type":"text","style":"digit"}},{"data":{"name":"nD"},"mark":{"type":"text","style":"nD"}},{"data":{"name":"supD"},"mark":{"type":"text","style":"supD"}},{"data":{"name":"nC"},"mark":{"type":"text","style":"nC"}},{"data":{"name":"supC"},"mark":{"type":"text","style":"supC"}},{"data":{"name":"nT"},"mark":{"type":"text","style":"nT"}},{"data":{"name":"supT"},"mark":{"type":"text","style":"supT"}},{"data":{"values":[{"x":-0.25,"y":25.2,"t":"h"}]},"mark":{"type":"text","style":"letter"}},{"data":{"values":[{"x":27.3,"y":14.96,"t":"="}]},"mark":{"type":"text","style":"plus"}}]}
]},
{"width":229,"height":221,"encoding":{"x":{"field":"x","type":"quantitative","scale":{"domain":[-2.169,26.456]},"axis":null},"y":{"field":"y","type":"quantitative","scale":{"domain":[-4.471,27.1]},"axis":null}},"layer":[
{"data":{"name":"lattice"},"mark":{"type":"circle","size":55,"opacity":1},"encoding":{"color":{"field":"a","type":"quantitative","scale":{"domain":[0,1,2,3,4,5,6,7,8,9],"range":["#5f51b9","#6663d8","#6f7cf6","#5ba6f2","#44c2dc","#52d2b4","#8fd98c","#cdd068","#fcc95f","#f8f244"]},"legend":null}}},
{"encoding":{"text":{"field":"t"}},"layer":[{"data":{"name":"digits"},"mark":{"type":"text","style":"digit"}},{"data":{"name":"nD"},"mark":{"type":"text","style":"nD"}},{"data":{"name":"supD"},"mark":{"type":"text","style":"supD"}},{"data":{"name":"nC"},"mark":{"type":"text","style":"nC"}},{"data":{"name":"supC"},"mark":{"type":"text","style":"supC"}},{"data":{"name":"nT"},"mark":{"type":"text","style":"nT"}},{"data":{"name":"supT"},"mark":{"type":"text","style":"supT"}},{"data":{"values":[{"x":-0.5,"y":24.5,"t":"i"}]},"mark":{"type":"text","style":"letter"}}]}
]}
]}
